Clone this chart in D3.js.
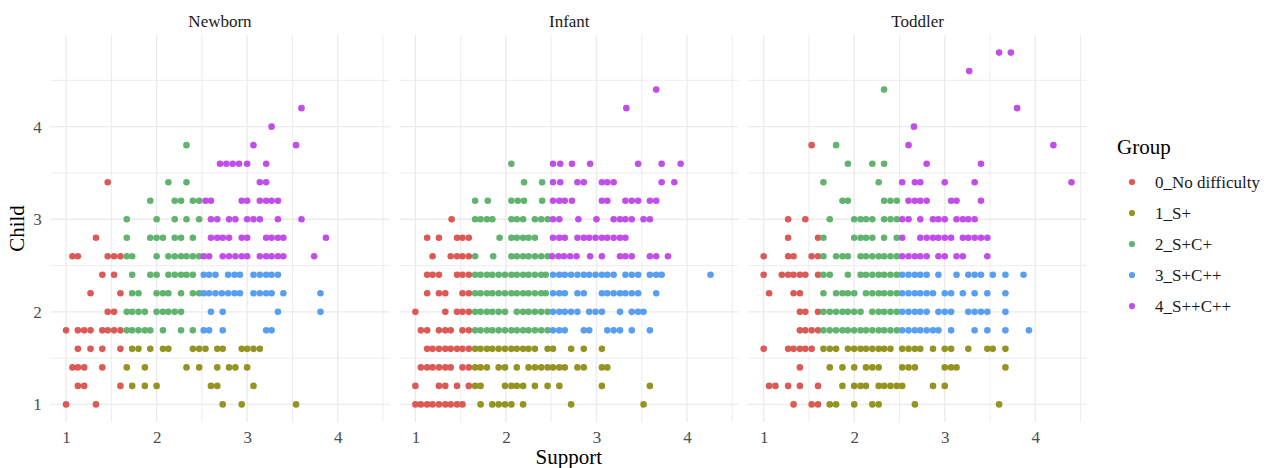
<!DOCTYPE html>
<html>
<head>
<meta charset="utf-8">
<script src="https://cdn.jsdelivr.net/npm/d3@7"></script>
<style>
  body { margin: 0; background: #fff; }
  svg { font-family: "Liberation Serif", "DejaVu Serif", serif; }
  .grid line { stroke: #ebebeb; }
  .axis text { fill: #4d4d4d; font-size: 17px; font-family: "Liberation Serif", serif; }
  .axis path, .axis line { display: none; }
</style>
</head>
<body>
<div id="chart"></div>
<script>
// facets and groups
const panels = ['Newborn', 'Infant', 'Toddler'];
const groups = ['0_No difficulty', '1_S+', '2_S+C+', '3_S+C++', '4_S++C++'];
const groupColors = ['#db5a55', '#949422', '#62b36f', '#589ff1', '#c24eea'];
const xTicks = [1, 2, 3, 4];
const yTicks = [1, 2, 3, 4];
const minorTicks = [1.5, 2.5, 3.5, 4.5];

// rows: [Child, group index, [Support values]]
const newbornRows = [
  [4.2, 4, [3.60]],
  [4.0, 4, [3.27]],
  [3.8, 2, [2.33]], [3.8, 4, [3.07, 3.54]],
  [3.6, 4, [2.70, 2.77, 2.84, 2.91, 3.00, 3.21]],
  [3.4, 0, [1.46]], [3.4, 2, [2.13, 2.33]], [3.4, 4, [3.14, 3.21]],
  [3.2, 2, [1.93, 2.20, 2.27, 2.40, 2.47]], [3.2, 4, [2.54, 2.60, 2.94, 3.00, 3.14, 3.21, 3.27, 3.34]],
  [3.0, 2, [1.67, 2.00, 2.20, 2.33, 2.47]], [3.0, 4, [2.60, 2.67, 2.80, 2.87, 3.00, 3.07, 3.14, 3.34, 3.60]],
  [2.8, 0, [1.33]], [2.8, 2, [1.67, 1.93, 2.00, 2.07, 2.20, 2.27, 2.40]],
  [2.8, 4, [2.60, 2.67, 2.73, 2.80, 2.94, 3.00, 3.21, 3.27, 3.34, 3.40, 3.87]],
  [2.6, 0, [1.07, 1.13, 1.46, 1.53, 1.60]], [2.6, 2, [1.67, 1.73, 2.00, 2.13, 2.20, 2.27, 2.33, 2.40, 2.47]],
  [2.6, 4, [2.52, 2.58, 2.73, 2.80, 2.87, 2.94, 3.00, 3.14, 3.21, 3.27, 3.34, 3.40, 3.74]],
  [2.4, 0, [1.40, 1.53]], [2.4, 2, [1.73, 1.93, 2.00, 2.13, 2.20, 2.27, 2.33, 2.40]],
  [2.4, 3, [2.52, 2.58, 2.65, 2.79, 2.86, 2.92, 3.07, 3.14, 3.21, 3.27, 3.34]],
  [2.2, 0, [1.27, 1.60]], [2.2, 2, [1.73, 1.80, 2.00, 2.07, 2.13, 2.27, 2.40, 2.47]],
  [2.2, 3, [2.52, 2.58, 2.65, 2.72, 2.79, 2.86, 2.92, 3.07, 3.14, 3.21, 3.27, 3.40, 3.81]],
  [2.0, 0, [1.46, 1.53]], [2.0, 2, [1.67, 1.73, 1.80, 1.87, 2.00, 2.07, 2.13, 2.20, 2.27]], [2.0, 3, [2.60, 2.73, 3.34, 3.81]],
  [1.8, 0, [1.00, 1.13, 1.20, 1.27, 1.40, 1.46, 1.53, 1.60]], [1.8, 2, [1.67, 1.73, 1.80, 1.87, 1.93, 2.07, 2.27, 2.40]],
  [1.8, 3, [2.52, 2.58, 2.73, 3.21, 3.27]],
  [1.6, 0, [1.13, 1.27, 1.40, 1.60]],
  [1.6, 1, [1.73, 1.80, 1.93, 2.07, 2.13, 2.40, 2.47, 2.54, 2.67, 2.73, 2.94, 3.00, 3.07, 3.14]],
  [1.4, 0, [1.07, 1.13, 1.20, 1.40]], [1.4, 1, [1.67, 1.87, 2.33, 2.47, 2.67, 2.80, 2.87, 3.00]],
  [1.2, 0, [1.13, 1.20, 1.60]], [1.2, 1, [1.73, 1.87, 2.00, 2.60, 2.67, 3.07]],
  [1.0, 0, [1.00, 1.33]], [1.0, 1, [2.73, 2.94, 3.54]]
];

const infantRows = [
  [4.4, 4, [3.66]],
  [4.2, 4, [3.33]],
  [3.6, 2, [2.06]], [3.6, 4, [2.52, 2.60, 2.73, 2.93, 3.46, 3.72, 3.93]],
  [3.4, 2, [2.20, 2.40]], [3.4, 4, [2.52, 2.60, 2.79, 2.86, 3.06, 3.12, 3.19, 3.72, 3.86]],
  [3.2, 2, [1.66, 1.80, 2.06, 2.13, 2.20, 2.40]], [3.2, 4, [2.52, 2.59, 2.65, 2.73, 3.06, 3.12, 3.32, 3.39, 3.46, 3.59, 3.66]],
  [3.0, 0, [1.40]], [3.0, 2, [1.66, 1.72, 1.79, 1.85, 2.06, 2.12, 2.19, 2.32, 2.39, 2.46]],
  [3.0, 4, [2.52, 2.59, 2.80, 3.00, 3.19, 3.26, 3.32, 3.39, 3.52, 3.59]],
  [2.8, 0, [1.13, 1.26, 1.46, 1.52, 1.59]], [2.8, 2, [1.93, 2.06, 2.12, 2.19, 2.25, 2.32]],
  [2.8, 4, [2.52, 2.59, 2.65, 2.79, 2.86, 2.92, 2.99, 3.06, 3.12, 3.19, 3.26, 3.32]],
  [2.6, 0, [1.19, 1.39, 1.46, 1.52, 1.59]], [2.6, 2, [1.66, 1.86, 2.06, 2.12, 2.19, 2.25, 2.32, 2.39, 2.46]],
  [2.6, 4, [2.51, 2.58, 2.64, 2.71, 2.78, 2.93, 3.06, 3.26, 3.32, 3.39, 3.59, 3.66, 3.79]],
  [2.4, 0, [1.13, 1.19, 1.26, 1.46, 1.52, 1.59]],
  [2.4, 2, [1.66, 1.72, 1.79, 1.85, 1.92, 1.99, 2.06, 2.12, 2.19, 2.25, 2.32, 2.39, 2.44]],
  [2.4, 3, [2.52, 2.59, 2.65, 2.72, 2.79, 2.86, 2.92, 2.99, 3.06, 3.12, 3.19, 3.32, 3.39, 3.46, 3.59, 3.66, 3.72, 4.26]],
  [2.2, 0, [1.13, 1.26, 1.33, 1.52, 1.59]],
  [2.2, 2, [1.66, 1.72, 1.79, 1.85, 1.92, 1.99, 2.06, 2.12, 2.19, 2.25, 2.32, 2.39, 2.44]],
  [2.2, 3, [2.52, 2.59, 2.65, 2.79, 2.86, 3.06, 3.12, 3.19, 3.26, 3.32, 3.39, 3.46, 3.66]],
  [2.0, 0, [1.00, 1.33, 1.46, 1.52, 1.59]],
  [2.0, 2, [1.66, 1.72, 1.79, 1.85, 1.92, 1.99, 2.12, 2.19, 2.25, 2.32, 2.39, 2.46]],
  [2.0, 3, [2.52, 2.59, 2.65, 2.72, 2.79, 2.92, 2.99, 3.06, 3.26, 3.39, 3.46, 3.52]],
  [1.8, 0, [1.06, 1.13, 1.26, 1.33, 1.39, 1.52, 1.59]],
  [1.8, 2, [1.66, 1.72, 1.79, 1.85, 1.92, 1.99, 2.06, 2.12, 2.19, 2.25, 2.32, 2.39, 2.46]],
  [1.8, 3, [2.52, 2.59, 2.65, 2.86, 2.92, 3.12, 3.19, 3.26, 3.39, 3.59]],
  [1.6, 0, [1.13, 1.19, 1.26, 1.33, 1.39, 1.46, 1.52, 1.59]],
  [1.6, 1, [1.66, 1.72, 1.79, 1.85, 1.92, 1.99, 2.06, 2.12, 2.19, 2.25, 2.32, 2.46, 2.52, 2.72, 2.86, 3.06]],
  [1.4, 0, [1.06, 1.13, 1.19, 1.26, 1.33, 1.39, 1.52, 1.59]],
  [1.4, 1, [1.66, 1.72, 1.79, 1.92, 1.99, 2.12, 2.25, 2.32, 2.39, 2.46, 2.52, 2.59, 2.65, 2.79, 2.86, 3.06, 3.12]],
  [1.2, 0, [1.00, 1.26, 1.33, 1.46, 1.59]],
  [1.2, 1, [1.66, 1.72, 1.99, 2.06, 2.12, 2.19, 2.32, 2.46, 2.59, 3.06, 3.59]],
  [1.0, 0, [1.00, 1.06, 1.13, 1.19, 1.26, 1.33, 1.39, 1.46, 1.52]],
  [1.0, 1, [1.72, 1.85, 1.92, 1.99, 2.06, 2.19, 2.72, 3.52]]
];

const toddlerRows = [
  [4.8, 4, [3.60, 3.73]],
  [4.6, 4, [3.27]],
  [4.4, 2, [2.33]],
  [4.2, 4, [3.80]],
  [4.0, 4, [2.66]],
  [3.8, 0, [1.53]], [3.8, 2, [1.80]], [3.8, 4, [2.60, 4.20]],
  [3.6, 2, [1.93, 2.20, 2.33]], [3.6, 4, [2.80, 3.40]],
  [3.4, 2, [1.66, 2.27]], [3.4, 4, [2.53, 2.67, 2.73, 3.00, 3.33, 4.40]],
  [3.2, 2, [1.87, 1.93, 2.33, 2.40, 2.47]], [3.2, 4, [2.60, 2.67, 2.73, 2.80, 3.07, 3.13, 3.40]],
  [3.0, 0, [1.27, 1.46]], [3.0, 2, [1.73, 2.00, 2.07, 2.13, 2.20, 2.33, 2.40, 2.47]],
  [3.0, 4, [2.53, 2.60, 2.73, 2.87, 2.93, 3.00, 3.13, 3.20, 3.26, 3.33]],
  [2.8, 0, [1.27, 1.60]], [2.8, 2, [1.66, 2.00, 2.07, 2.13, 2.20, 2.33, 2.47]],
  [2.8, 4, [2.53, 2.73, 2.80, 2.87, 2.93, 3.00, 3.07, 3.20, 3.26, 3.33, 3.40, 3.47]],
  [2.6, 0, [1.00, 1.27, 1.33, 1.53, 1.60]], [2.6, 2, [1.66, 1.80, 1.87, 1.93, 2.07, 2.13, 2.20, 2.27, 2.33, 2.40, 2.47]],
  [2.6, 4, [2.53, 2.60, 2.67, 2.73, 2.80, 2.93, 3.00, 3.13, 3.20, 3.47]],
  [2.4, 0, [1.00, 1.20, 1.27, 1.33, 1.40, 1.46, 1.60]], [2.4, 2, [1.66, 1.73, 1.93, 2.07, 2.13, 2.20, 2.27, 2.33, 2.40, 2.47]],
  [2.4, 3, [2.53, 2.60, 2.67, 2.73, 2.80, 2.93, 3.13, 3.26, 3.33, 3.40, 3.53, 3.67, 3.87]],
  [2.2, 0, [1.06, 1.33, 1.40]], [2.2, 2, [1.66, 1.80, 1.87, 1.93, 2.00, 2.13, 2.20, 2.27, 2.33, 2.40, 2.47]],
  [2.2, 3, [2.53, 2.60, 2.67, 2.73, 2.80, 2.87, 3.00, 3.07, 3.20, 3.33, 3.47, 3.67]],
  [2.0, 0, [1.40, 1.46, 1.60]], [2.0, 2, [1.66, 1.73, 1.80, 1.87, 1.93, 2.00, 2.07, 2.20, 2.27, 2.33, 2.40, 2.47]],
  [2.0, 3, [2.53, 2.60, 2.67, 2.73, 2.80, 2.93, 3.00, 3.07, 3.26, 3.33, 3.40, 3.47, 3.67]],
  [1.8, 0, [1.40, 1.46, 1.53, 1.60]],
  [1.8, 2, [1.66, 1.73, 1.80, 1.87, 1.93, 2.00, 2.07, 2.13, 2.20, 2.27, 2.33, 2.40, 2.47]],
  [1.8, 3, [2.53, 2.60, 2.67, 2.73, 2.80, 2.87, 2.93, 3.07, 3.33, 3.47, 3.67, 3.93]],
  [1.6, 0, [1.00, 1.27, 1.33, 1.40, 1.46, 1.53]],
  [1.6, 1, [1.66, 1.73, 1.80, 1.93, 2.00, 2.07, 2.13, 2.20, 2.27, 2.33, 2.40, 2.53, 2.60, 2.67, 2.73, 2.87, 3.00, 3.07, 3.26, 3.47, 3.53, 3.67]],
  [1.4, 0, [1.40]], [1.4, 1, [1.73, 1.87, 2.00, 2.13, 2.20, 2.27, 2.53, 2.60, 2.67, 3.00, 3.07, 3.13, 3.67]],
  [1.2, 0, [1.06, 1.13, 1.27, 1.40, 1.60]], [1.2, 1, [1.87, 2.00, 2.07, 2.13, 2.27, 2.33, 2.40, 2.47, 2.53, 2.87, 3.00]],
  [1.0, 0, [1.33, 1.53, 1.60]], [1.0, 1, [1.73, 1.80, 2.00, 2.20, 2.27, 2.67, 3.60]]
];

const panelRows = [newbornRows, infantRows, toddlerRows];

const width = 1272, height = 468;
const panelLeft = [50.7, 400, 748.3];
const panelW = 338.6, panelTop = 35, panelH = 387;

const svg = d3.select('#chart').append('svg')
  .attr('width', width)
  .attr('height', height);

const x = d3.scaleLinear().domain([0.83, 4.57]).range([0, panelW]);
const y = d3.scaleLinear().domain([0.81, 4.99]).range([panelH, 0]);
const color = d3.scaleOrdinal().domain(d3.range(groups.length)).range(groupColors);

panels.forEach((name, p) => {
  const g = svg.append('g')
    .attr('transform', `translate(${panelLeft[p]}, ${panelTop})`);

  // grid (minor then major)
  const grid = g.append('g').attr('class', 'grid');
  grid.selectAll('.vminor').data(minorTicks).enter().append('line')
    .attr('x1', d => x(d)).attr('x2', d => x(d))
    .attr('y1', 0).attr('y2', panelH)
    .attr('stroke-width', 0.9);
  grid.selectAll('.hminor').data(minorTicks).enter().append('line')
    .attr('y1', d => y(d)).attr('y2', d => y(d))
    .attr('x1', 0).attr('x2', panelW)
    .attr('stroke-width', 0.9);
  grid.selectAll('.vmajor').data(xTicks).enter().append('line')
    .attr('x1', d => x(d)).attr('x2', d => x(d))
    .attr('y1', 0).attr('y2', panelH)
    .attr('stroke-width', 1.3);
  grid.selectAll('.hmajor').data(yTicks).enter().append('line')
    .attr('y1', d => y(d)).attr('y2', d => y(d))
    .attr('x1', 0).attr('x2', panelW)
    .attr('stroke-width', 1.3);

  // x axis labels
  g.append('g')
    .attr('class', 'axis axis-x')
    .attr('transform', `translate(0, ${panelH})`)
    .call(d3.axisBottom(x).tickValues(xTicks).tickFormat(d3.format('d')).tickSize(0).tickPadding(9))
    .attr('font-family', null).attr('font-size', null);

  // y axis labels, first panel only
  if (p === 0) {
    g.append('g')
      .attr('class', 'axis axis-y')
      .call(d3.axisLeft(y).tickValues(yTicks).tickFormat(d3.format('d')).tickSize(0).tickPadding(9))
      .attr('font-family', null).attr('font-size', null);
  }

  // strip title
  g.append('text')
    .attr('x', panelW / 2)
    .attr('y', -14)
    .attr('dy', '0.35em')
    .attr('text-anchor', 'middle')
    .style('font-size', '17px')
    .style('fill', '#1a1a1a')
    .text(name);

  // points
  const pts = [];
  panelRows[p].forEach(([cy, gi, xs]) => xs.forEach(sx => pts.push({ s: sx, c: cy, g: gi })));
  g.append('g').selectAll('circle')
    .data(pts)
    .enter().append('circle')
    .attr('cx', d => x(d.s))
    .attr('cy', d => y(d.c))
    .attr('r', 3.3)
    .style('fill', d => color(d.g));
});

// axis titles
svg.append('text')
  .attr('x', (panelLeft[0] + panelLeft[2] + panelW) / 2)
  .attr('y', 457)
  .attr('dy', '0.35em')
  .attr('text-anchor', 'middle')
  .style('font-size', '21px')
  .text('Support');

svg.append('text')
  .attr('transform', `translate(17, ${panelTop + panelH / 2}) rotate(-90)`)
  .attr('dy', '0.35em')
  .attr('text-anchor', 'middle')
  .style('font-size', '21px')
  .text('Child');

// legend
const legend = svg.append('g').attr('transform', 'translate(1117, 147)');
legend.append('text')
  .attr('dy', '0.35em')
  .style('font-size', '21px')
  .text('Group');
const items = legend.selectAll('.item')
  .data(groups)
  .enter().append('g')
  .attr('class', 'item')
  .attr('transform', (d, i) => `translate(0, ${35 + i * 31})`);
items.append('circle')
  .attr('cx', 15)
  .attr('r', 3.1)
  .style('fill', (d, i) => color(i));
items.append('text')
  .attr('x', 38)
  .attr('dy', '0.35em')
  .style('font-size', '17px')
  .style('fill', '#1a1a1a')
  .text(d => d);
</script>
</body>
</html>
